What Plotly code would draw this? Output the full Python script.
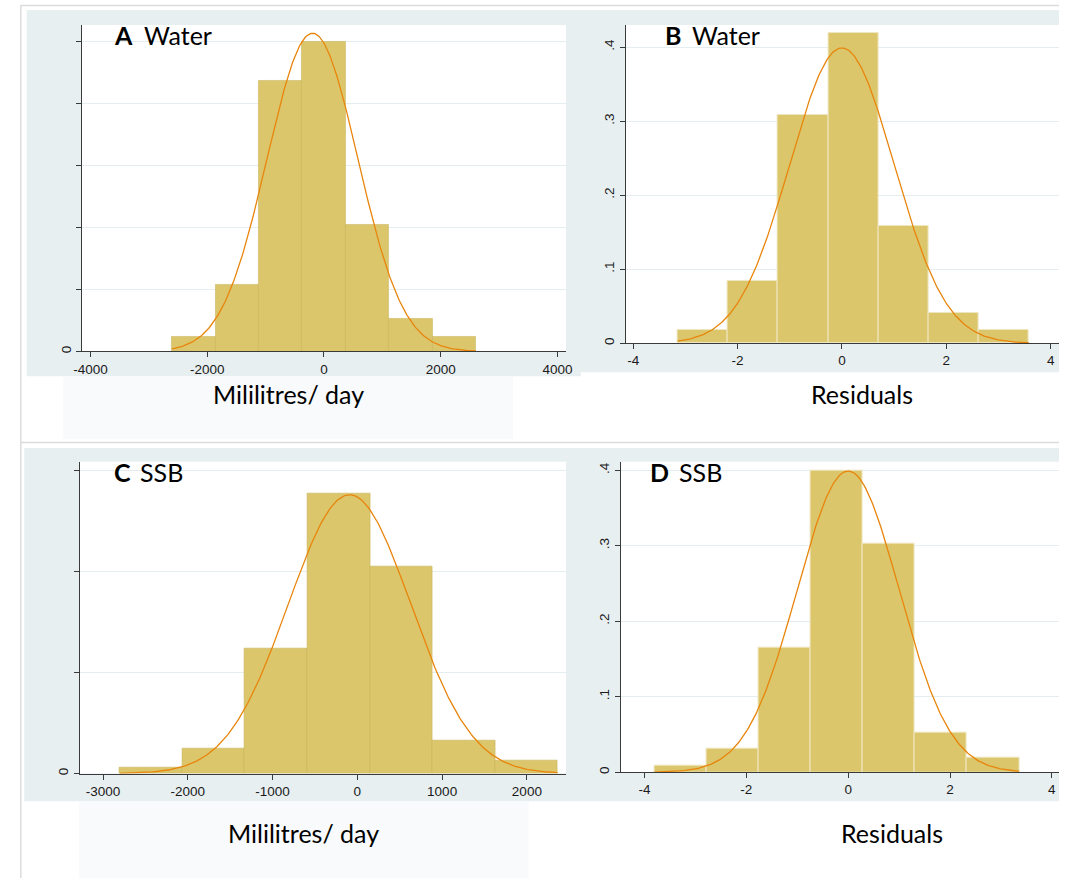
import numpy as np
import plotly.graph_objects as go

W, H = 1065, 880

# ---- histogram data (density scale) ----
# A: water intake, ml/day
water_ml_edges = [-2600 + 743 * k for k in range(8)]
water_ml_density = [0.0000236, 0.0001078, 0.0004367, 0.0005, 0.000204, 0.000052, 0.0000236]
water_ml_mean, water_ml_sd = -197, 777

# B: water residuals
water_res_edges = [-3.145 + 0.961 * k for k in range(8)]
water_res_density = [0.0184, 0.0836, 0.3079, 0.4198, 0.1582, 0.0404, 0.0184]
water_res_mean, water_res_sd = 0.0, 1.0

# C: SSB intake, ml/day
ssb_ml_edges = [-2802 + 738.1 * k for k in range(8)]
ssb_ml_density = [0.0000118, 0.0000486, 0.0002464, 0.0005528, 0.0004082, 0.000065, 0.000026]
ssb_ml_mean, ssb_ml_sd = -92, 724

# D: SSB residuals
ssb_res_edges = [-3.804 + 1.023 * k for k in range(8)]
ssb_res_density = [0.0084, 0.0317, 0.1656, 0.3991, 0.3026, 0.052, 0.0198]
ssb_res_mean, ssb_res_sd = 0.0, 1.0

# tick positions / labels
a_xticks = [-4000, -2000, 0, 2000, 4000]
a_yticks = [0, 0.0001, 0.0002, 0.0003, 0.0004, 0.0005]
b_xticks = [-4, -2, 0, 2, 4]
b_yticks = [0, 0.1, 0.2, 0.3, 0.4]
b_ytext = ["0", ".1", ".2", ".3", ".4"]
c_xticks = [-3000, -2000, -1000, 0, 1000, 2000]
c_yticks = [0, 0.0002, 0.0004, 0.0006]

BAR = "#dbc66c"
CURVE = "#e8850c"
BLUISH = "#e8eff1"
GRID = "#e4edef"
AXIS = "#3a3a3a"


def px(x):
    return x / W


def py(y):
    return 1 - y / H


fig = go.Figure()


def add_panel(idx, edges, dens, mean, sd, edge_color):
    edges = np.asarray(edges, dtype=float)
    centers = (edges[:-1] + edges[1:]) / 2
    width = edges[1] - edges[0]
    xa = "x" if idx == 1 else f"x{idx}"
    ya = "y" if idx == 1 else f"y{idx}"
    fig.add_trace(go.Bar(
        x=centers, y=dens, width=[width] * len(dens),
        marker=dict(color=BAR, line=dict(color=edge_color, width=1)),
        xaxis=xa, yaxis=ya, showlegend=False, hoverinfo="skip"))
    # fitted normal density over the data range
    xs = np.linspace(edges[0], edges[-1], 300)
    ys = np.exp(-0.5 * ((xs - mean) / sd) ** 2) / (sd * np.sqrt(2 * np.pi))
    fig.add_trace(go.Scatter(
        x=xs, y=ys, mode="lines", line=dict(color=CURVE, width=1.3),
        xaxis=xa, yaxis=ya, showlegend=False, hoverinfo="skip"))


add_panel(1, water_ml_edges, water_ml_density, water_ml_mean, water_ml_sd, "rgba(200,178,88,0.55)")
add_panel(2, water_res_edges, water_res_density, water_res_mean, water_res_sd, "#efe6c2")
add_panel(3, ssb_ml_edges, ssb_ml_density, ssb_ml_mean, ssb_ml_sd, "rgba(200,178,88,0.55)")
add_panel(4, ssb_res_edges, ssb_res_density, ssb_res_mean, ssb_res_sd, "#efe6c2")

tickfont = dict(family="Liberation Sans, Arial, sans-serif", size=13.5, color="#1a1a1a")


def xaxis(domain, rng, ticks, anchor):
    return dict(domain=domain, range=rng, tickvals=ticks, ticktext=[str(t) for t in ticks],
                showline=True, linecolor=AXIS, linewidth=1, ticks="outside", ticklen=5,
                tickcolor=AXIS, tickfont=tickfont, showgrid=False, zeroline=False,
                anchor=anchor, fixedrange=True)


def yaxis(domain, rng, ticks, text, anchor):
    return dict(domain=domain, range=rng, tickvals=ticks, ticktext=text,
                showline=True, linecolor=AXIS, linewidth=1, ticks="outside", ticklen=5,
                tickcolor=AXIS, tickfont=tickfont, tickangle=-90, showgrid=True,
                gridcolor=GRID, gridwidth=1, zeroline=False, anchor=anchor, fixedrange=True)


# plot-area pixel boxes: (left, right, top, bottom)
boxA = (74, 565, 25, 352.3)
boxB = (625.4, 1065, 25, 344)
boxC = (71.6, 565, 462.7, 775.3)
boxD = (620.3, 1065, 462.7, 774)


def dom(b):
    return [px(b[0]), px(b[1])], [py(b[3]), py(b[2])]


dxA, dyA = dom(boxA)
dxB, dyB = dom(boxB)
dxC, dyC = dom(boxC)
dxD, dyD = dom(boxD)

fig.update_layout(
    xaxis=xaxis(dxA, [-4145, 4145], a_xticks, "y"),
    yaxis=yaxis(dyA, [0, 0.0005268], a_yticks, ["0"] + [""] * 5, "x"),
    xaxis2=xaxis(dxB, [-4.145, 4.16], b_xticks, "y2"),
    yaxis2=yaxis(dyB, [0, 0.43], b_yticks, b_ytext, "x2"),
    xaxis3=xaxis(dxC, [-3277, 2462], c_xticks, "y3"),
    yaxis3=yaxis(dyC, [0, 0.0006166], c_yticks, ["0", "", "", ""], "x3"),
    xaxis4=xaxis(dxD, [-4.47, 4.14], b_xticks, "y4"),
    yaxis4=yaxis(dyD, [0, 0.4114], b_yticks, b_ytext, "x4"),
)

shapes = []


def rect(x0, x1, y0, y1, color):
    shapes.append(dict(type="rect", xref="paper", yref="paper", layer="below",
                       x0=px(x0), x1=px(x1), y0=py(y1), y1=py(y0),
                       fillcolor=color, line=dict(width=0)))


def line(x0, y0, x1, y1, color="#dcdcdc"):
    shapes.append(dict(type="line", xref="paper", yref="paper", layer="below",
                       x0=px(x0), x1=px(x1), y0=py(y0), y1=py(y1),
                       line=dict(color=color, width=1.5)))


# graph regions
rect(18, 580, 10, 377, BLUISH)
rect(565, 1065, 10, 373, BLUISH)
rect(15.5, 1065, 449, 803, BLUISH)
# boxes behind the axis captions
rect(55, 511, 377, 440, "#f8fafb")
rect(71, 527, 803, 880, "#f8fafb")
# white plot regions
for b in (boxA, boxB, boxC, boxD):
    rect(b[0], b[1], b[2], b[3], "white")
# outer frame lines
line(12, 5.5, 1065, 5.5)
line(12, 5, 12, 880)
line(12, 443.5, 1065, 443.5)

annotations = []
lab = dict(family="Lato, sans-serif", size=25, color="black")


def text(x, y, s, anchor="left"):
    annotations.append(dict(xref="paper", yref="paper", x=px(x), y=py(y), text=s,
                            showarrow=False, xanchor=anchor, yanchor="middle", font=lab))


text(104, 35, "<b>A</b>")
text(135, 35, "Water")
text(663, 35, "<b>B</b>")
text(691, 35, "Water")
text(104, 473, "<b>C</b>")
text(131, 473, "SSB")
text(648, 473, "<b>D</b>")
text(678, 473, "SSB")
text(283, 395, "Mililitres/ day", "center")
text(865, 395, "Residuals", "center")
text(299, 835, "Mililitres/ day", "center")
text(896, 835, "Residuals", "center")

fig.update_layout(
    width=W, height=H, margin=dict(l=0, r=0, t=0, b=0), autosize=False,
    paper_bgcolor="white", plot_bgcolor="rgba(0,0,0,0)",
    shapes=shapes, annotations=annotations, bargap=0, showlegend=False,
)

fig.write_html("out.html")
